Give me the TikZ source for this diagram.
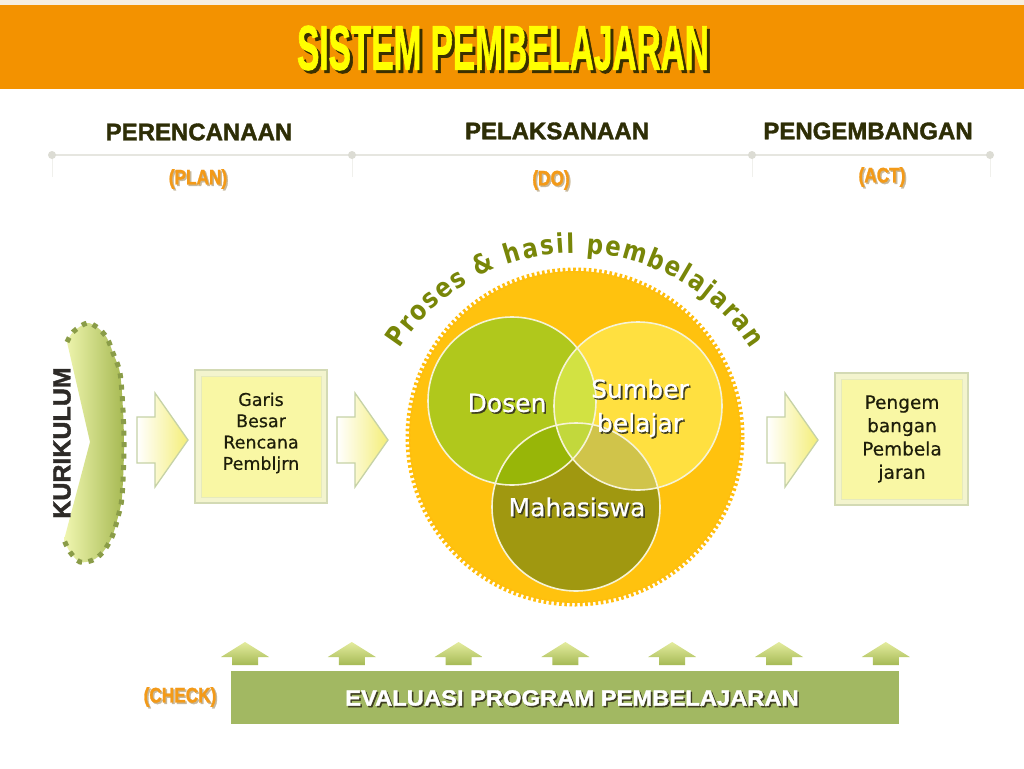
\documentclass[tikz,border=0pt]{standalone}
\usepackage{fontspec}
\setmainfont{Liberation Sans}
\newfontfamily\heavyfont{Liberation Sans}[BoldFeatures={FakeBold=1.6}]
\newfontfamily\comic{DejaVu Sans}[FakeBold=0.5]
\newfontfamily\comicb{DejaVu Sans}
\definecolor{topline}{HTML}{F6EEDF}
\definecolor{orangeband}{HTML}{F39200}
\definecolor{titley}{HTML}{FFFF00}
\definecolor{titlesh}{HTML}{3A3000}
\definecolor{darkol}{HTML}{2E2E06}
\definecolor{lblor}{HTML}{F39A18}
\definecolor{lblsh}{HTML}{C8B89A}
\definecolor{tline}{HTML}{E6E6E0}
\definecolor{tdot}{HTML}{DCDCD4}
\definecolor{kurl}{HTML}{F0F6B0}
\definecolor{kurr}{HTML}{A6B952}
\definecolor{kurdot}{HTML}{8A9C48}
\definecolor{arrY}{HTML}{F4EE78}
\definecolor{arrE}{HTML}{C6D2A6}
\definecolor{boxline}{HTML}{D3DAB4}
\definecolor{boxouter}{HTML}{F3F4CE}
\definecolor{boxinline}{HTML}{E6EABD}
\definecolor{boxin}{HTML}{F9F7A4}
\definecolor{boxtext}{HTML}{1E1E0A}
\definecolor{gold}{HTML}{FFC20E}
\definecolor{curvec}{HTML}{788608}
\definecolor{dosc}{HTML}{B0C81C}
\definecolor{sumc}{HTML}{FFE040}
\definecolor{mahc}{HTML}{A09810}
\definecolor{dsc}{HTML}{D2E242}
\definecolor{dmc}{HTML}{98B608}
\definecolor{smc}{HTML}{D0C44A}
\definecolor{dsmc}{HTML}{C2D83C}
\definecolor{vline}{HTML}{F6F3D6}
\definecolor{vsh}{HTML}{3C3C20}
\definecolor{barc}{HTML}{A2B862}
\definecolor{uptop}{HTML}{E4EC9E}
\definecolor{upbot}{HTML}{A6BA56}
\tikzset{
  heading/.style={font=\heavyfont\bfseries\fontsize{24}{24}\selectfont, text=darkol, inner sep=0},
  orlbl/.style={font=\heavyfont\bfseries\fontsize{21}{21}\selectfont, inner sep=0},
  boxtxt/.style={font=\comic\fontsize{17.5}{21.3}\selectfont, text=boxtext, align=center, inner sep=0},
  boxtxtb/.style={font=\comic\fontsize{18.5}{23.3}\selectfont, text=boxtext, align=center, inner sep=0},
  venntxt/.style={font=\comic\fontsize{25}{34}\selectfont, align=center, inner sep=0},
  curvelet/.style={font=\comicb\bfseries\fontsize{27}{27}\selectfont, text=curvec, inner sep=0, anchor=base},
  rarr/.pic={\shadedraw[left color=white, right color=arrY, draw=arrE, line width=1.3]
     (0,-23) -- (18,-23) -- (18,-47) -- (51,0) -- (18,47) -- (18,23) -- (0,23) -- cycle;},
  uparr/.pic={\shade[top color=uptop, bottom color=upbot]
     (0,0) -- (24,15) -- (13,15) -- (13,23) -- (-13,23) -- (-13,15) -- (-24,15) -- cycle;}
}
\begin{document}
\begin{tikzpicture}[x=1pt,y=-1pt]
\useasboundingbox (0,0) rectangle (1024,768);
\fill[white] (0,0) rectangle (1024,768);
% top band
\fill[topline] (0,0) rectangle (1024,5);
\fill[orangeband] (0,5) rectangle (1024,89);
\node[inner sep=0, text=titlesh] (titlesh) at (506,51)
  {\scalebox{0.53}[1]{\heavyfont\bfseries\fontsize{63}{63}\selectfont SISTEM PEMBELAJARAN}};
\node[inner sep=0, text=titley] (title) at (503,48)
  {\scalebox{0.53}[1]{\heavyfont\bfseries\fontsize{63}{63}\selectfont SISTEM PEMBELAJARAN}};
% headings
\node[heading] (plan) at (199,132) {PERENCANAAN};
\node[heading] (do) at (557,131) {PELAKSANAAN};
\node[heading] (act) at (868,131) {PENGEMBANGAN};
% timeline
\coordinate (t1) at (52,155);
\coordinate (t2) at (352,155);
\coordinate (t3) at (752,155);
\coordinate (t4) at (990,155);
\draw[tline, line width=2] (t1) -- (t4);
\foreach \p in {t1,t2,t3,t4}{
  \draw[tline!60, line width=1] (\p) -- ++(0,22);
  \fill[tdot] (\p) circle[radius=4];
}
% orange labels
\node[orlbl, text=lblsh] (plans) at (199.5,180.5) {\scalebox{0.82}[1]{(PLAN)}};
\node[orlbl, text=lblor] (planl) at (198,179) {\scalebox{0.82}[1]{(PLAN)}};
\node[orlbl, text=lblsh] (dos) at (552.5,181.5) {\scalebox{0.82}[1]{(DO)}};
\node[orlbl, text=lblor] (dol) at (551,180) {\scalebox{0.82}[1]{(DO)}};
\node[orlbl, text=lblsh] (acts) at (883.5,178.5) {\scalebox{0.82}[1]{(ACT)}};
\node[orlbl, text=lblor] (actl) at (882,177) {\scalebox{0.82}[1]{(ACT)}};
\node[orlbl, text=lblsh] (checks) at (181.5,698.5) {\scalebox{0.82}[1]{(CHECK)}};
\node[orlbl, text=lblor] (checkl) at (180,697) {\scalebox{0.82}[1]{(CHECK)}};
% KURIKULUM shape
\shade[left color=kurl, right color=kurr]
  plot[smooth] coordinates {(67,342) (73,332) (87,323) (98,328) (107,338) (113,353) (120,373) (123,410) (124,450) (122,497) (118,517) (112,537) (103,552) (93,560) (80,562) (70,552) (64,540)}
  -- (90,442) -- cycle;
\draw[kurdot, line width=5, dash pattern=on 5 off 6.5]
  plot[smooth] coordinates {(67,342) (73,332) (87,323) (98,328) (107,338) (113,353) (120,373) (123,410) (124,450) (122,497) (118,517) (112,537) (103,552) (93,560) (80,562) (70,552) (64,540)};
\node[rotate=90, inner sep=0, text=black!90!olive, font=\heavyfont\bfseries\fontsize{25}{25}\selectfont] (kur) at (62,443) {KURIKULUM};
% block arrows
\pic at (137,440) {rarr};
\pic at (337,440) {rarr};
\pic at (767,440) {rarr};
% box 1
\filldraw[fill=boxouter, draw=boxline, line width=1.5] (195,370) rectangle (327,503);
\filldraw[fill=boxin, draw=boxinline, line width=1] (201,376) rectangle (321,497);
\node[boxtxt] (gbrp) at (261,433) {Garis\\Besar\\Rencana\\Pembljrn};
% box 2
\filldraw[fill=boxouter, draw=boxline, line width=1.5] (835,373) rectangle (968,505);
\filldraw[fill=boxin, draw=boxinline, line width=1] (841,379) rectangle (962,499);
\node[boxtxtb] (pp) at (902,439) {Pengem\\bangan\\Pembela\\jaran};
% big gear circle
\coordinate (cc) at (575,437);
\fill[gold] (cc) circle[radius=166];
\draw[gold!92!orange, line width=5, dash pattern=on 2.6 off 2.6] (cc) circle[radius=167];
% curved text
\coordinate (ca) at (575,462);
\foreach \l/\a [count=\i] in {P/215.18, r/219.53, o/223.73, s/228.25, e/232.73, s/237.21, \&/245.04,
   h/253.22, a/258.05, s/262.52, i/266.01, l/268.75,
   p/275.37, e/280.21, m/286.03, b/291.95, e/296.80, l/300.53, a/304.26, j/307.99, a/311.71, r/315.89, a/320.06, n/324.88}{
  \node[curvelet, rotate=-\a-90] (cl\i) at ([shift={(\a:209)}]ca) {\scalebox{0.85}[1]{\l}};
}
% Venn
\coordinate (cD) at (512,401);
\coordinate (cS) at (638,406);
\coordinate (cM) at (576,507);
\fill[dosc] (cD) circle[radius=84];
\fill[sumc] (cS) circle[radius=84];
\fill[mahc] (cM) circle[radius=84];
\begin{scope}\clip (cD) circle[radius=84]; \fill[dsc] (cS) circle[radius=84];\end{scope}
\begin{scope}\clip (cD) circle[radius=84]; \fill[dmc] (cM) circle[radius=84];\end{scope}
\begin{scope}\clip (cS) circle[radius=84]; \fill[smc] (cM) circle[radius=84];\end{scope}
\begin{scope}\clip (cD) circle[radius=84]; \clip (cS) circle[radius=84]; \fill[dsmc] (cM) circle[radius=84];\end{scope}
\foreach \c in {cD,cS,cM}{\draw[vline, line width=1.6] (\c) circle[radius=84];}
\node[venntxt, text=vsh] (dosens) at (508.6,404.6) {Dosen};
\node[venntxt, text=white] (dosen) at (507,403) {Dosen};
\node[venntxt, text=vsh] (sumbers) at (641.6,409.6) {Sumber\\belajar};
\node[venntxt, text=white] (sumber) at (640,408) {Sumber\\belajar};
\node[venntxt, text=vsh] (mahas) at (578.6,508.6) {Mahasiswa};
\node[venntxt, text=white] (maha) at (577,507) {Mahasiswa};
% bottom bar
\fill[barc] (231,671) rectangle (899,724);
\node[inner sep=0, text=vsh, font=\heavyfont\bfseries\fontsize{22}{22}\selectfont] (evals) at (573.5,699.5) {\scalebox{1.08}[1]{EVALUASI PROGRAM PEMBELAJARAN}};
\node[inner sep=0, text=white, font=\heavyfont\bfseries\fontsize{22}{22}\selectfont] (eval) at (572,698) {\scalebox{1.08}[1]{EVALUASI PROGRAM PEMBELAJARAN}};
\foreach \i in {0,...,6}{
  \pic at (245+106.8*\i,642) {uparr};
}
\end{tikzpicture}
\end{document}
